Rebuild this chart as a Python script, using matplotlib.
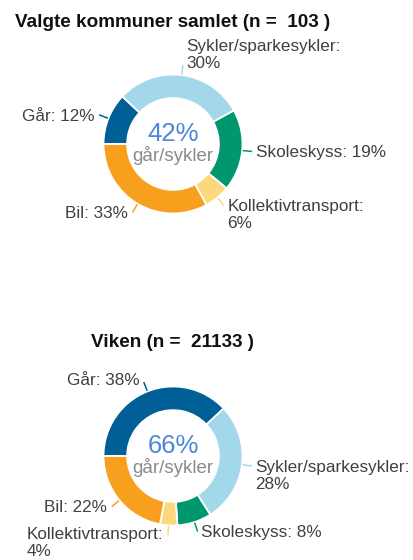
import numpy as np
import matplotlib
matplotlib.use("Agg")
import matplotlib.pyplot as plt

plt.rcParams["font.family"] = ["Liberation Sans", "DejaVu Sans"]

# Travel mode to school, share of pupils (%)
categories = ["Går", "Sykler/sparkesykler", "Skoleskyss", "Kollektivtransport", "Bil"]
share_samlet = [12, 30, 19, 6, 33]
share_viken = [38, 28, 8, 4, 22]
panel_titles = ["Valgte kommuner samlet", "Viken"]
panel_n = [103, 21133]
center_caption = "går/sykler"

colors = ["#005f96", "#a3d8ea", "#00976e", "#fcd77c", "#f99f1e"]
label_color = "#404040"
center_color = "#4f86d9"
caption_color = "#8a8a8a"

W, H = 414, 560
R = 69.5            # outer radius (px)
RING = 0.34         # ring thickness as fraction of radius
LEAD = 10.0         # leader length (px)
FS_LABEL = 12.3
FS_TITLE = 13.6
FS_BIG = 18.5
FS_CAP = 13.5
px_per_pt = 100 / 72.0

fig = plt.figure(figsize=(W / 100, H / 100), dpi=100)
ax = fig.add_axes([0, 0, 1, 1])

labels = []


def ypos(y_pix):
    return H - y_pix


def label_text(cat, v):
    if len(cat) > 12:
        return f"{cat}:\n{v}%"
    return f"{cat}: {v}%"


def donut(cx, cy_pix, values, title, n, title_base_pix):
    cy = ypos(cy_pix)
    wedges, _ = ax.pie(values, colors=colors, startangle=180, counterclock=False,
                       radius=R, center=(cx, cy),
                       wedgeprops=dict(width=R * RING, edgecolor="white",
                                       linewidth=1.3))
    asc = 0.716 * FS_LABEL * px_per_pt
    for w, cat, v, col in zip(wedges, categories, values, colors):
        mid = np.deg2rad((w.theta1 + w.theta2) / 2)
        c, s = np.cos(mid), np.sin(mid)
        x0, y0 = cx + (R + 0.5) * c, cy + (R + 0.5) * s
        x1, y1 = cx + (R + LEAD) * c, cy + (R + LEAD) * s
        ax.plot([x0, x1], [y0, y1], color=col, lw=1.1, solid_capstyle="butt")
        ha = "left" if c >= 0 else "right"
        tx = x1 + (3.5 if c >= 0 else -4.5)
        txt = label_text(cat, v)
        if s > 0.9:
            # labels at the top sit above the leader end
            t = ax.text(tx, y1 - 3, txt, ha=ha, va="baseline", ma="left",
                        fontsize=FS_LABEL, color=label_color, linespacing=1.15)
        else:
            t = ax.text(tx, y1 - 6 + asc, txt, ha=ha, va="top", ma="left",
                        fontsize=FS_LABEL, color=label_color, linespacing=1.15)
        labels.append(t)
    active = values[0] + values[1]
    ax.text(cx, cy + 3, f"{active}%", ha="center", va="baseline",
            fontsize=FS_BIG, color=center_color)
    ax.text(cx, cy - 17, center_caption, ha="center", va="baseline",
            fontsize=FS_CAP, color=caption_color)
    ax.text(cx, ypos(title_base_pix), f"{title} (n =  {n} )", ha="center",
            va="baseline", fontsize=FS_TITLE, fontweight="bold", color="#111111")


donut(173, 144, share_samlet, panel_titles[0], panel_n[0], 27)
donut(173, 456, share_viken, panel_titles[1], panel_n[1], 347)

ax.set_xlim(0, W)
ax.set_ylim(0, H)
ax.set_aspect("equal")
ax.axis("off")

# keep data labels inside the canvas
fig.canvas.draw()
renderer = fig.canvas.get_renderer()
for t in labels:
    bb = t.get_window_extent(renderer)
    x, y = t.get_position()
    if bb.y0 < 1:
        y += 1 - bb.y0
    if bb.x0 < 1:
        x += 1 - bb.x0
    if bb.x1 > W - 1:
        x -= bb.x1 - (W - 1)
    t.set_position((x, y))

fig.savefig("out.png", dpi=100, facecolor="white")
